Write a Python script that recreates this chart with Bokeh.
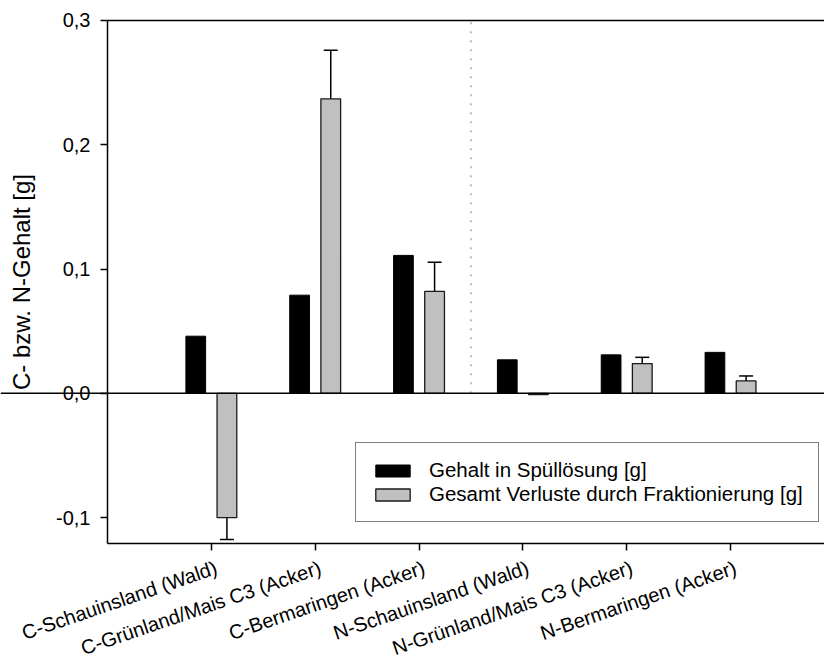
import math
from bokeh.plotting import figure
from bokeh.models import (ColumnDataSource, Range1d, FixedTicker, LinearAxis,
                          Span, Whisker, TeeHead, Legend, LegendItem, LabelSet,
                          Label)
from bokeh.core.properties import value
from bokeh.embed import file_html
from bokeh.resources import INLINE

# Sites (C and N series), one group per site
sites = [
    "C-Schauinsland (Wald)",
    "C-Grünland/Mais C3 (Acker)",
    "C-Bermaringen (Acker)",
    "N-Schauinsland (Wald)",
    "N-Grünland/Mais C3 (Acker)",
    "N-Bermaringen (Acker)",
]
# Gehalt in Spüllösung [g]
rinse = [0.046, 0.079, 0.111, 0.027, 0.031, 0.033]
# Gesamt Verluste durch Fraktionierung [g] with standard error
loss = [-0.100, 0.237, 0.082, -0.001, 0.024, 0.010]
loss_err = [0.0175, 0.039, 0.0235, 0.0, 0.005, 0.004]

y_ticks = [-0.1, 0.0, 0.1, 0.2, 0.3]
y_tick_labels = ["-0,1", "0,0", "0,1", "0,2", "0,3"]

FONT = "Liberation Sans"
# data window of the axes box; the canvas also holds the slanted names,
# the tick labels and the axis title, so the ranges reach beyond the box
X_MIN, X_MAX = -1.0, 5.905
Y_MIN, Y_MAX = -0.1208, 0.3
PX_X = 103.84          # pixels per category step
PX_Y = 1242.9          # pixels per 1.0 on the value axis
LEFT_PAD, BOTTOM_PAD, TOP_PAD = 107, 114, 20
NAME_GAP = 13          # px between the x axis line and the slanted names

idx = list(range(len(sites)))
offset = 0.15
bar_w = 0.19

src_rinse = ColumnDataSource(dict(x=[i - offset for i in idx], top=rinse))
src_loss = ColumnDataSource(dict(x=[i + offset for i in idx], top=loss))
err_pairs = [(i + offset, v, e) for i, v, e in zip(idx, loss, loss_err) if e > 0]
src_err = ColumnDataSource(dict(
    x=[q[0] for q in err_pairs],
    upper=[q[1] + q[2] for q in err_pairs],
    lower=[q[1] - q[2] for q in err_pairs],
))
src_names = ColumnDataSource(dict(
    x=[i + 1.5 / PX_X for i in idx],
    y=[Y_MIN - NAME_GAP / PX_Y] * len(sites),
    name=sites,
))

p = figure(width=824, height=657, output_backend="svg", toolbar_location=None,
           x_range=Range1d(X_MIN - LEFT_PAD / PX_X, X_MAX),
           y_range=Range1d(Y_MIN - BOTTOM_PAD / PX_Y, Y_MAX + TOP_PAD / PX_Y),
           min_border_left=0, min_border_top=0, min_border_bottom=0,
           min_border_right=0)
p.outline_line_color = None
p.xgrid.visible = False
p.ygrid.visible = False
p.background_fill_color = "white"
p.border_fill_color = "white"

# separator between the C and N groups
p.segment(x0=[2.5], y0=[0.0], x1=[2.5], y1=[Y_MAX], line_color="#a8a8a8",
          line_width=1.5, line_dash="2 7")

r_rinse = p.vbar(x="x", top="top", bottom=0, width=bar_w, source=src_rinse,
                 fill_color="black", line_color="black", line_width=1)
r_loss = p.vbar(x="x", top="top", bottom=0, width=bar_w, source=src_loss,
                fill_color="#c0c0c0", line_color="#1a1a1a", line_width=1.3)

p.add_layout(Span(location=0, dimension="width", line_color="black",
                  line_width=1.5))

whisk = Whisker(base="x", upper="upper", lower="lower", source=src_err,
                dimension="height", line_color="black", line_width=1.5,
                upper_head=TeeHead(size=14, line_width=1.5, line_color="black"),
                lower_head=TeeHead(size=14, line_width=1.5, line_color="black"))
p.add_layout(whisk)

# x axis at the bottom of the value window, ticks only
xa = p.xaxis[0]
xa.fixed_location = Y_MIN
xa.bounds = (X_MIN, X_MAX)
xa.ticker = FixedTicker(ticks=idx)
xa.major_label_overrides = {i: "" for i in idx}
xa.minor_tick_line_color = None
xa.major_tick_in = 0
xa.major_tick_out = 7
xa.major_tick_line_width = 1.5
xa.axis_line_width = 1.5

# slanted site names under the ticks, ending at each tick
names = LabelSet(x="x", y="y", text="name", source=src_names,
                 angle=0.33, text_align="right", text_baseline="top",
                 text_font=value(FONT), text_font_size=value("20px"),
                 text_color="black")
p.add_layout(names)

# y axis at the left edge of the value window
ya = p.yaxis[0]
ya.fixed_location = X_MIN
ya.bounds = (Y_MIN, Y_MAX)
ya.ticker = FixedTicker(ticks=y_ticks)
ya.major_label_overrides = {t: s for t, s in zip(y_ticks, y_tick_labels)}
ya.minor_tick_line_color = None
ya.major_tick_in = 0
ya.major_tick_out = 7
ya.major_tick_line_width = 1.5
ya.axis_line_width = 1.5
ya.major_label_text_font = FONT
ya.major_label_text_font_size = "20px"
ya.major_label_text_color = "black"
ya.major_label_standoff = 10

y_title = Label(x=X_MIN, y=(Y_MIN + Y_MAX) / 2, x_offset=-86,
                text="C- bzw. N-Gehalt [g]", angle=math.pi / 2,
                text_align="center", text_baseline="middle",
                text_font=FONT, text_font_size="24px",
                text_color="black")
p.add_layout(y_title)

# top frame line
top_axis = LinearAxis(ticker=FixedTicker(ticks=[]), axis_line_width=1.5,
                      fixed_location=Y_MAX, bounds=(X_MIN, X_MAX),
                      major_tick_line_color=None, minor_tick_line_color=None)
p.add_layout(top_axis, "above")

legend = Legend(items=[
    LegendItem(label="Gehalt in Spüllösung [g]", renderers=[r_rinse]),
    LegendItem(label="Gesamt Verluste durch Fraktionierung [g]", renderers=[r_loss]),
], location=(LEFT_PAD + 248, BOTTOM_PAD + 21), orientation="vertical",
    border_line_color="black", border_line_width=1.5,
    background_fill_color="white", background_fill_alpha=1.0,
    padding=15, spacing=0, margin=0,
    glyph_width=43, glyph_height=15, label_height=20, label_standoff=15,
    label_text_font=FONT, label_text_font_size="20.5px", label_text_color="black")
p.add_layout(legend)

open("out.html", "w").write(file_html(p, INLINE))
